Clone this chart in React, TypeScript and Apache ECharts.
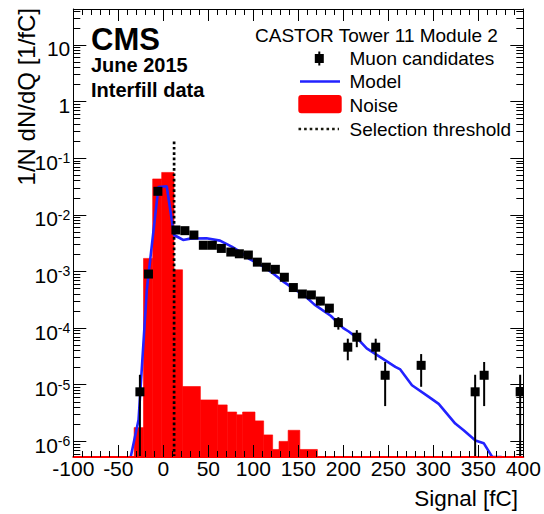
import React, { useEffect, useRef } from "react";
import * as echarts from "echarts";

const FONT = "'Liberation Sans', Arial, Helvetica, sans-serif";
const X_MIN = -100;
const X_MAX = 400;
const Y_MIN = 5.3e-7;
const Y_MAX = 43;

const xTickInterval = 50;
const yMajorTicks = [1e-6, 1e-5, 1e-4, 1e-3, 1e-2, 1e-1, 1, 10];
const yMinorDecades = [1e-7, 1e-6, 1e-5, 1e-4, 1e-3, 1e-2, 1e-1, 1, 10];
const yMinorSteps = [2, 3, 4, 5, 6, 7, 8, 9];

// Noise histogram: bin low edge, high edge, content
const noiseLow = [-32.4, -22.0, -11.8, -1.8, 11.9, 21.4, 41.2, 60.6, 71.0, 81.5, 88.1, 101.9, 111.5, 121.5, 128.6, 138.7, 151.7];
const noiseHigh = [-22.0, -11.8, -1.8, 11.9, 21.4, 41.2, 60.6, 71.0, 81.5, 88.1, 101.9, 111.5, 121.5, 128.6, 138.7, 151.7, 171.2];
const noiseValue = [1.75e-6, 1.7e-3, 0.043, 0.056, 1.07e-3, 9.3e-6, 5.4e-6, 4.4e-6, 3.3e-6, 2.95e-6, 3.3e-6, 2.3e-6, 1.3e-6, 7.2e-7, 1.0e-6, 1.57e-6, 7.2e-7];

// Muon candidates
const muonSignal = [-26, -16.5, -6, 14, 24, 34, 44.5, 54.5, 64.5, 75, 84.5, 94.5, 104.5, 114.5, 124.5, 134.5, 144.5, 154.5, 164.5, 174.5, 184.5, 194.5, 205, 215, 236, 246.5, 286.5, 346.5, 356.5, 396.5];
const muonValue = [7.5e-6, 9.0e-4, 2.6e-2, 5.4e-3, 5.25e-3, 4.4e-3, 2.9e-3, 2.9e-3, 2.55e-3, 2.2e-3, 2.05e-3, 1.95e-3, 1.46e-3, 1.19e-3, 1.09e-3, 7.9e-4, 5.2e-4, 4.0e-4, 3.85e-4, 3.0e-4, 2.25e-4, 1.25e-4, 4.6e-5, 6.9e-5, 4.6e-5, 1.47e-5, 2.2e-5, 7.5e-6, 1.47e-5, 7.5e-6];
const muonError = [7.5e-6, 8e-5, 4.4e-4, 2e-4, 2e-4, 1.8e-4, 1.5e-4, 1.5e-4, 1.4e-4, 1.3e-4, 1.2e-4, 1.2e-4, 1.0e-4, 9e-5, 9e-5, 7.7e-5, 6.2e-5, 5.5e-5, 5.4e-5, 4.7e-5, 4.1e-5, 3.1e-5, 1.9e-5, 2.3e-5, 1.9e-5, 1.05e-5, 1.28e-5, 7.5e-6, 1.05e-5, 7.5e-6];

// Model curve
const modelSignal = [-36.2, -27.5, -18.3, -6.6, -5.4, 3.8, 11.9, 15.5, 22, 30, 48, 63, 76, 86, 96, 110, 122, 133, 148, 155, 168, 186, 200, 206, 214, 226, 246.7, 257.8, 263.3, 276.3, 295, 306, 324.4, 333.7, 346.8, 356, 365.5, 376];
const modelValue = [5.3e-7, 2.4e-6, 4.8e-4, 0.021, 0.031, 0.032, 4.4e-3, 4.1e-3, 3.6e-3, 3.8e-3, 3.85e-3, 3.5e-3, 2.75e-3, 2.2e-3, 1.65e-3, 1.25e-3, 9.2e-4, 6.7e-4, 4.6e-4, 4.0e-4, 2.6e-4, 1.65e-4, 1.0e-4, 8.7e-5, 7.0e-5, 4.4e-5, 2.7e-5, 2.07e-5, 1.86e-5, 9.8e-6, 6.1e-6, 4.6e-6, 2.06e-6, 1.57e-6, 1.04e-6, 9.3e-7, 5.3e-7, 5.3e-7];

const thresholdSignal = 12;
const thresholdTop = 0.2;

const legendTitle = "CASTOR Tower 11 Module 2";
const legendLabels = ["Muon candidates", "Model", "Noise", "Selection threshold"];
const cmsLines = ["CMS", "June 2015", "Interfill data"];
const xAxisTitle = "Signal [fC]";
const yAxisTitle = "1/N dN/dQ [1/fC]";

const RED = "#ff0000";
const BLUE = "#2222ff";
const BLACK = "#000000";

export default function App() {
  const ref = useRef<HTMLDivElement>(null);

  useEffect(() => {
    if (!ref.current) return;
    const chart = echarts.init(ref.current, undefined, { renderer: "svg" });

    const yMinorTicks: number[] = [];
    yMinorDecades.forEach((d) =>
      yMinorSteps.forEach((s) => {
        const v = d * s;
        if (v > Y_MIN && v < Y_MAX) yMinorTicks.push(v);
      })
    );

    const yLabelFormatter = (v: number) => {
      const e = Math.round(Math.log10(v));
      if (e === 0) return "{b|1}";
      if (e === 1) return "{b|10}";
      return "{b|10}{s|" + e + "}";
    };

    const baseX = {
      type: "value",
      min: X_MIN,
      max: X_MAX,
      interval: xTickInterval,
      z: 10,
      splitLine: { show: false },
      minorSplitLine: { show: false },
    };
    const baseY = {
      type: "log",
      logBase: 10,
      min: Y_MIN,
      max: Y_MAX,
      z: 10,
      splitLine: { show: false },
    };

    const legendRowsY = [58, 81.5, 105, 129];
    const legendTextX = 349.5;

    const option: any = {
      animation: false,
      backgroundColor: "#ffffff",
      textStyle: { fontFamily: FONT },
      grid: { left: 73.3, right: 20.7, top: 9, bottom: 57, containLabel: false },
      xAxis: [
        {
          ...baseX,
          position: "bottom",
          axisLine: { show: true, onZero: false, lineStyle: { color: RED, width: 2 } },
          axisTick: { show: true, inside: true, length: 12, lineStyle: { color: BLACK, width: 1 } },
          minorTick: { show: true, splitNumber: 5, length: 6, lineStyle: { color: BLACK, width: 1 } },
          axisLabel: { show: true, fontSize: 21, color: BLACK, fontFamily: FONT, margin: 1 },
        },
        {
          ...baseX,
          position: "top",
          axisLine: { show: true, onZero: false, lineStyle: { color: BLACK, width: 1 } },
          axisTick: { show: true, inside: true, length: 12, lineStyle: { color: BLACK, width: 1 } },
          minorTick: { show: true, splitNumber: 5, length: 6, lineStyle: { color: BLACK, width: 1 } },
          axisLabel: { show: false },
        },
      ],
      yAxis: [
        {
          ...baseY,
          position: "left",
          axisLine: { show: true, onZero: false, lineStyle: { color: BLACK, width: 1 } },
          axisTick: { show: true, inside: true, length: 13, customValues: yMajorTicks, lineStyle: { color: BLACK, width: 1 } },
          axisLabel: {
            show: true,
            customValues: yMajorTicks,
            margin: 3,
            formatter: yLabelFormatter,
            rich: {
              b: { fontSize: 21, lineHeight: 21, fontFamily: FONT, color: BLACK, padding: [8, 0, 0, 0] },
              s: { fontSize: 14, lineHeight: 14, fontFamily: FONT, color: BLACK, verticalAlign: "top", padding: [3.5, 0, 0, 0] },
            },
          },
        },
        {
          ...baseY,
          position: "left",
          axisLine: { show: false, onZero: false },
          axisTick: { show: true, inside: true, length: 7, customValues: yMinorTicks, lineStyle: { color: BLACK, width: 1 } },
          axisLabel: { show: false },
        },
        {
          ...baseY,
          position: "right",
          axisLine: { show: true, onZero: false, lineStyle: { color: BLACK, width: 1 } },
          axisTick: { show: true, inside: true, length: 13, customValues: yMajorTicks, lineStyle: { color: BLACK, width: 1 } },
          axisLabel: { show: false },
        },
        {
          ...baseY,
          position: "right",
          axisLine: { show: false, onZero: false },
          axisTick: { show: true, inside: true, length: 7, customValues: yMinorTicks, lineStyle: { color: BLACK, width: 1 } },
          axisLabel: { show: false },
        },
      ],
      series: [
        {
          name: "Noise",
          type: "custom",
          xAxisIndex: 0,
          yAxisIndex: 0,
          clip: true,
          z: 2,
          dimensions: ["lo", "hi", "v"],
          encode: { x: [0, 1], y: 2 },
          data: noiseLow.map((lo, i) => [lo, noiseHigh[i], noiseValue[i]]),
          renderItem: (params: any, api: any) => {
            const p0 = api.coord([api.value(0), api.value(2)]);
            const p1 = api.coord([api.value(1), Y_MIN]);
            return {
              type: "rect",
              shape: { x: p0[0], y: p0[1], width: p1[0] - p0[0], height: p1[1] - p0[1] },
              style: { fill: RED, stroke: RED, lineWidth: 0.6 },
            };
          },
        },
        {
          name: "Model",
          type: "line",
          xAxisIndex: 0,
          yAxisIndex: 0,
          z: 3,
          clip: true,
          symbol: "none",
          showSymbol: false,
          lineStyle: { color: BLUE, width: 2.6 },
          data: modelSignal.map((x, i) => [x, modelValue[i]]),
        },
        {
          name: "Selection threshold",
          type: "line",
          xAxisIndex: 0,
          yAxisIndex: 0,
          z: 4,
          symbol: "none",
          showSymbol: false,
          lineStyle: { color: BLACK, width: 2.7, type: [2.7, 2.6] },
          data: [
            [thresholdSignal, Y_MIN],
            [thresholdSignal, thresholdTop],
          ],
        },
        {
          name: "Muon candidates",
          type: "custom",
          xAxisIndex: 0,
          yAxisIndex: 0,
          clip: true,
          z: 5,
          dimensions: ["x", "y", "err"],
          encode: { x: 0, y: 1 },
          data: muonSignal.map((x, i) => [x, muonValue[i], muonError[i]]),
          renderItem: (params: any, api: any) => {
            const x = api.value(0);
            const y = api.value(1);
            const err = api.value(2);
            const c = api.coord([x, y]);
            const top = api.coord([x, y + err]);
            const bot = api.coord([x, Math.max(y - err, Y_MIN)]);
            const s = 9;
            return {
              type: "group",
              children: [
                {
                  type: "line",
                  shape: { x1: c[0], y1: top[1], x2: c[0], y2: bot[1] },
                  style: { stroke: BLACK, lineWidth: 2 },
                },
                {
                  type: "rect",
                  shape: { x: c[0] - s / 2, y: c[1] - s / 2, width: s, height: s },
                  style: { fill: BLACK },
                },
              ],
            };
          },
        },
      ],
      graphic: {
        elements: [
          {
            type: "text",
            x: 91,
            y: 39.5,
            style: { text: cmsLines[0], fontSize: 31, fontWeight: "bold", fontFamily: FONT, fill: BLACK, align: "left", verticalAlign: "middle" },
          },
          {
            type: "text",
            x: 91,
            y: 65,
            style: { text: cmsLines[1], fontSize: 20, fontWeight: "bold", fontFamily: FONT, fill: BLACK, align: "left", verticalAlign: "middle" },
          },
          {
            type: "text",
            x: 91,
            y: 89.5,
            style: { text: cmsLines[2], fontSize: 20, fontWeight: "bold", fontFamily: FONT, fill: BLACK, align: "left", verticalAlign: "middle" },
          },
          {
            type: "text",
            x: 255,
            y: 35,
            style: { text: legendTitle, fontSize: 19, fontFamily: FONT, fill: BLACK, align: "left", verticalAlign: "middle" },
          },
          {
            type: "line",
            shape: { x1: 319.3, y1: legendRowsY[0] - 6.5, x2: 319.3, y2: legendRowsY[0] + 7.5 },
            style: { stroke: BLACK, lineWidth: 2 },
          },
          {
            type: "rect",
            shape: { x: 319.3 - 4.5, y: legendRowsY[0] + 0.5 - 4.5, width: 9, height: 9 },
            style: { fill: BLACK },
          },
          {
            type: "line",
            shape: { x1: 300, y1: legendRowsY[1], x2: 340, y2: legendRowsY[1] },
            style: { stroke: BLUE, lineWidth: 2.6 },
          },
          {
            type: "rect",
            shape: { x: 298.3, y: 95, width: 43.4, height: 18.3, r: 3 },
            style: { fill: RED },
          },
          {
            type: "line",
            shape: { x1: 298.5, y1: legendRowsY[3], x2: 339, y2: legendRowsY[3] },
            style: { stroke: "#1a1a10", lineWidth: 2.6, lineDash: [2.6, 3] },
          },
          ...legendLabels.map((t, i) => ({
            type: "text",
            x: legendTextX,
            y: legendRowsY[i],
            style: { text: t, fontSize: 19, fontFamily: FONT, fill: BLACK, align: "left", verticalAlign: "middle" },
          })),
          {
            type: "text",
            x: 518,
            y: 498.5,
            style: { text: xAxisTitle, fontSize: 22.5, fontFamily: FONT, fill: BLACK, align: "right", verticalAlign: "middle" },
          },
          {
            type: "text",
            x: 26.7,
            y: 8,
            rotation: Math.PI / 2,
            style: { text: yAxisTitle, fontSize: 24, fontFamily: FONT, fill: BLACK, align: "right", verticalAlign: "middle" },
          },
        ],
      },
    };

    chart.setOption(option);
    return () => {
      chart.dispose();
    };
  }, []);

  return (
    <div
      ref={ref}
      style={{ position: "fixed", left: 0, top: 0, width: 544, height: 514, background: "#ffffff" }}
    />
  );
}
